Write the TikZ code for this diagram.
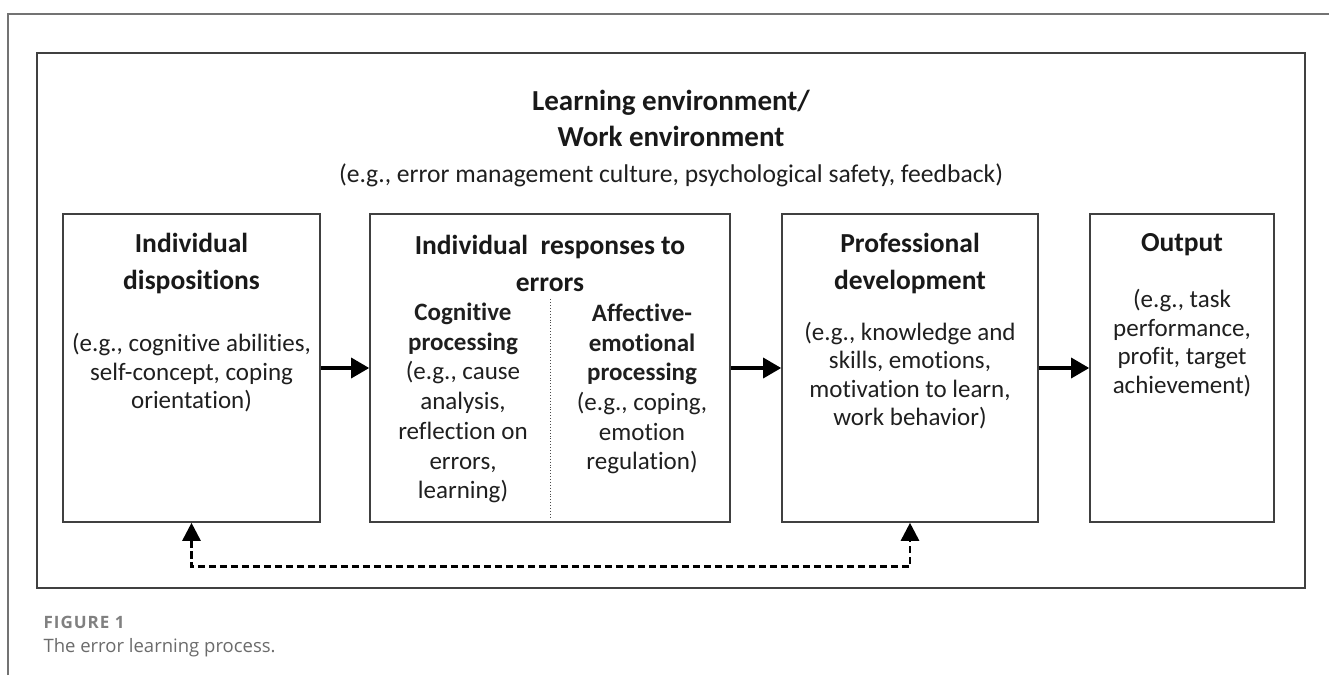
\documentclass[tikz,border=0pt]{standalone}
\usepackage{fontspec}
\setmainfont{Carlito}[Ligatures = NoCommon]
\newfontfamily\capfont{Open Sans}
\usepackage{tikz}
\usetikzlibrary{arrows.meta}

\begin{document}
\begin{tikzpicture}[x = 1pt, y = -1pt,
        box/.style = {draw = black!75, line width = 1.6pt, inner sep = 0pt},
        head/.style = {font = \bfseries\fontsize{27.5}{36.5}\selectfont, align = center, text = black!90},
        body/.style = {font = \fontsize{25}{28.5}\selectfont, align = center, text = black!88},
        flow/.style = {line width = 3.3pt, -{Triangle[length = 18pt, width = 20pt]}},
        back/.style = {line width = 2.8pt, dash pattern = on 7.5pt off 3.5pt, {Triangle[length = 18pt, width = 18pt]}-{Triangle[length = 18pt, width = 18pt]}}]
        \useasboundingbox (0,0) rectangle (1329,675);
        \draw[line width = 1.4pt, black!55] (8,675) -- (8,14) -- (1329,14);
        \node[box, minimum width = 1268pt, minimum height = 535pt] (env) at (671,320.5) {};
        \node[head, font = \bfseries\fontsize{29}{36}\selectfont] (envtitle) at (671,118) {Learning environment/\\Work environment};
        \node[body, font = \fontsize{25.6}{28.5}\selectfont] (envex) at (671,175) {(e.g., error management culture, psychological safety, feedback)};
        \node[box, minimum width = 257pt, minimum height = 308pt] (disp) at (191.5,368) {};
        \node[box, minimum width = 360pt, minimum height = 308pt] (resp) at (550,368) {};
        \node[box, minimum width = 256pt, minimum height = 308pt] (dev) at (910,368) {};
        \node[box, minimum width = 184pt, minimum height = 308pt] (out) at (1182,368) {};
        \node[head] at (191.5,263.5) {Individual\\dispositions};
        \node[body] at (191.5,373) {(e.g., cognitive abilities,\\self-concept, coping\\orientation)};
        \node[head] at (550,263.5) {Individual\ \ responses to\\errors};
        \node[body, font = \fontsize{25}{29.7}\selectfont] at (463,403) {\textbf{Cognitive}\\\textbf{processing}\\(e.g., cause\\analysis,\\reflection on\\errors,\\learning)};
        \node[body, font = \fontsize{25}{29.7}\selectfont] at (642,389) {\textbf{Affective-}\\\textbf{emotional}\\\textbf{processing}\\(e.g., coping,\\emotion\\regulation)};
        \node[head] at (910,263.5) {Professional\\development};
        \node[body] at (910,375.5) {(e.g., knowledge and\\skills, emotions,\\motivation to learn,\\work behavior)};
        \node[head] at (1182,245) {Output};
        \node[body] at (1182,343) {(e.g., task\\performance,\\profit, target\\achievement)};
        \draw[line width = 0.9pt, black!70, dotted] ([yshift = -86pt]resp.north) -- ([yshift = 6pt]resp.south);
        \draw[flow] (disp.east) -- (resp.west);
        \draw[flow] (resp.east) -- (dev.west);
        \draw[flow] (dev.east) -- (out.west);
        \draw[back] (disp.south) -- ++(0,44) -| (dev.south);
        \node[anchor = base west, font = \capfont\bfseries\fontsize{17}{20}\selectfont\addfontfeature{LetterSpace = 6}, text = black!50] at (40,628) {FIGURE 1};
        \node[anchor = base west, font = \capfont\fontsize{18.5}{22}\selectfont, text = black!58] at (40,652) {The error learning process.};
    \end{tikzpicture}
\end{document}
